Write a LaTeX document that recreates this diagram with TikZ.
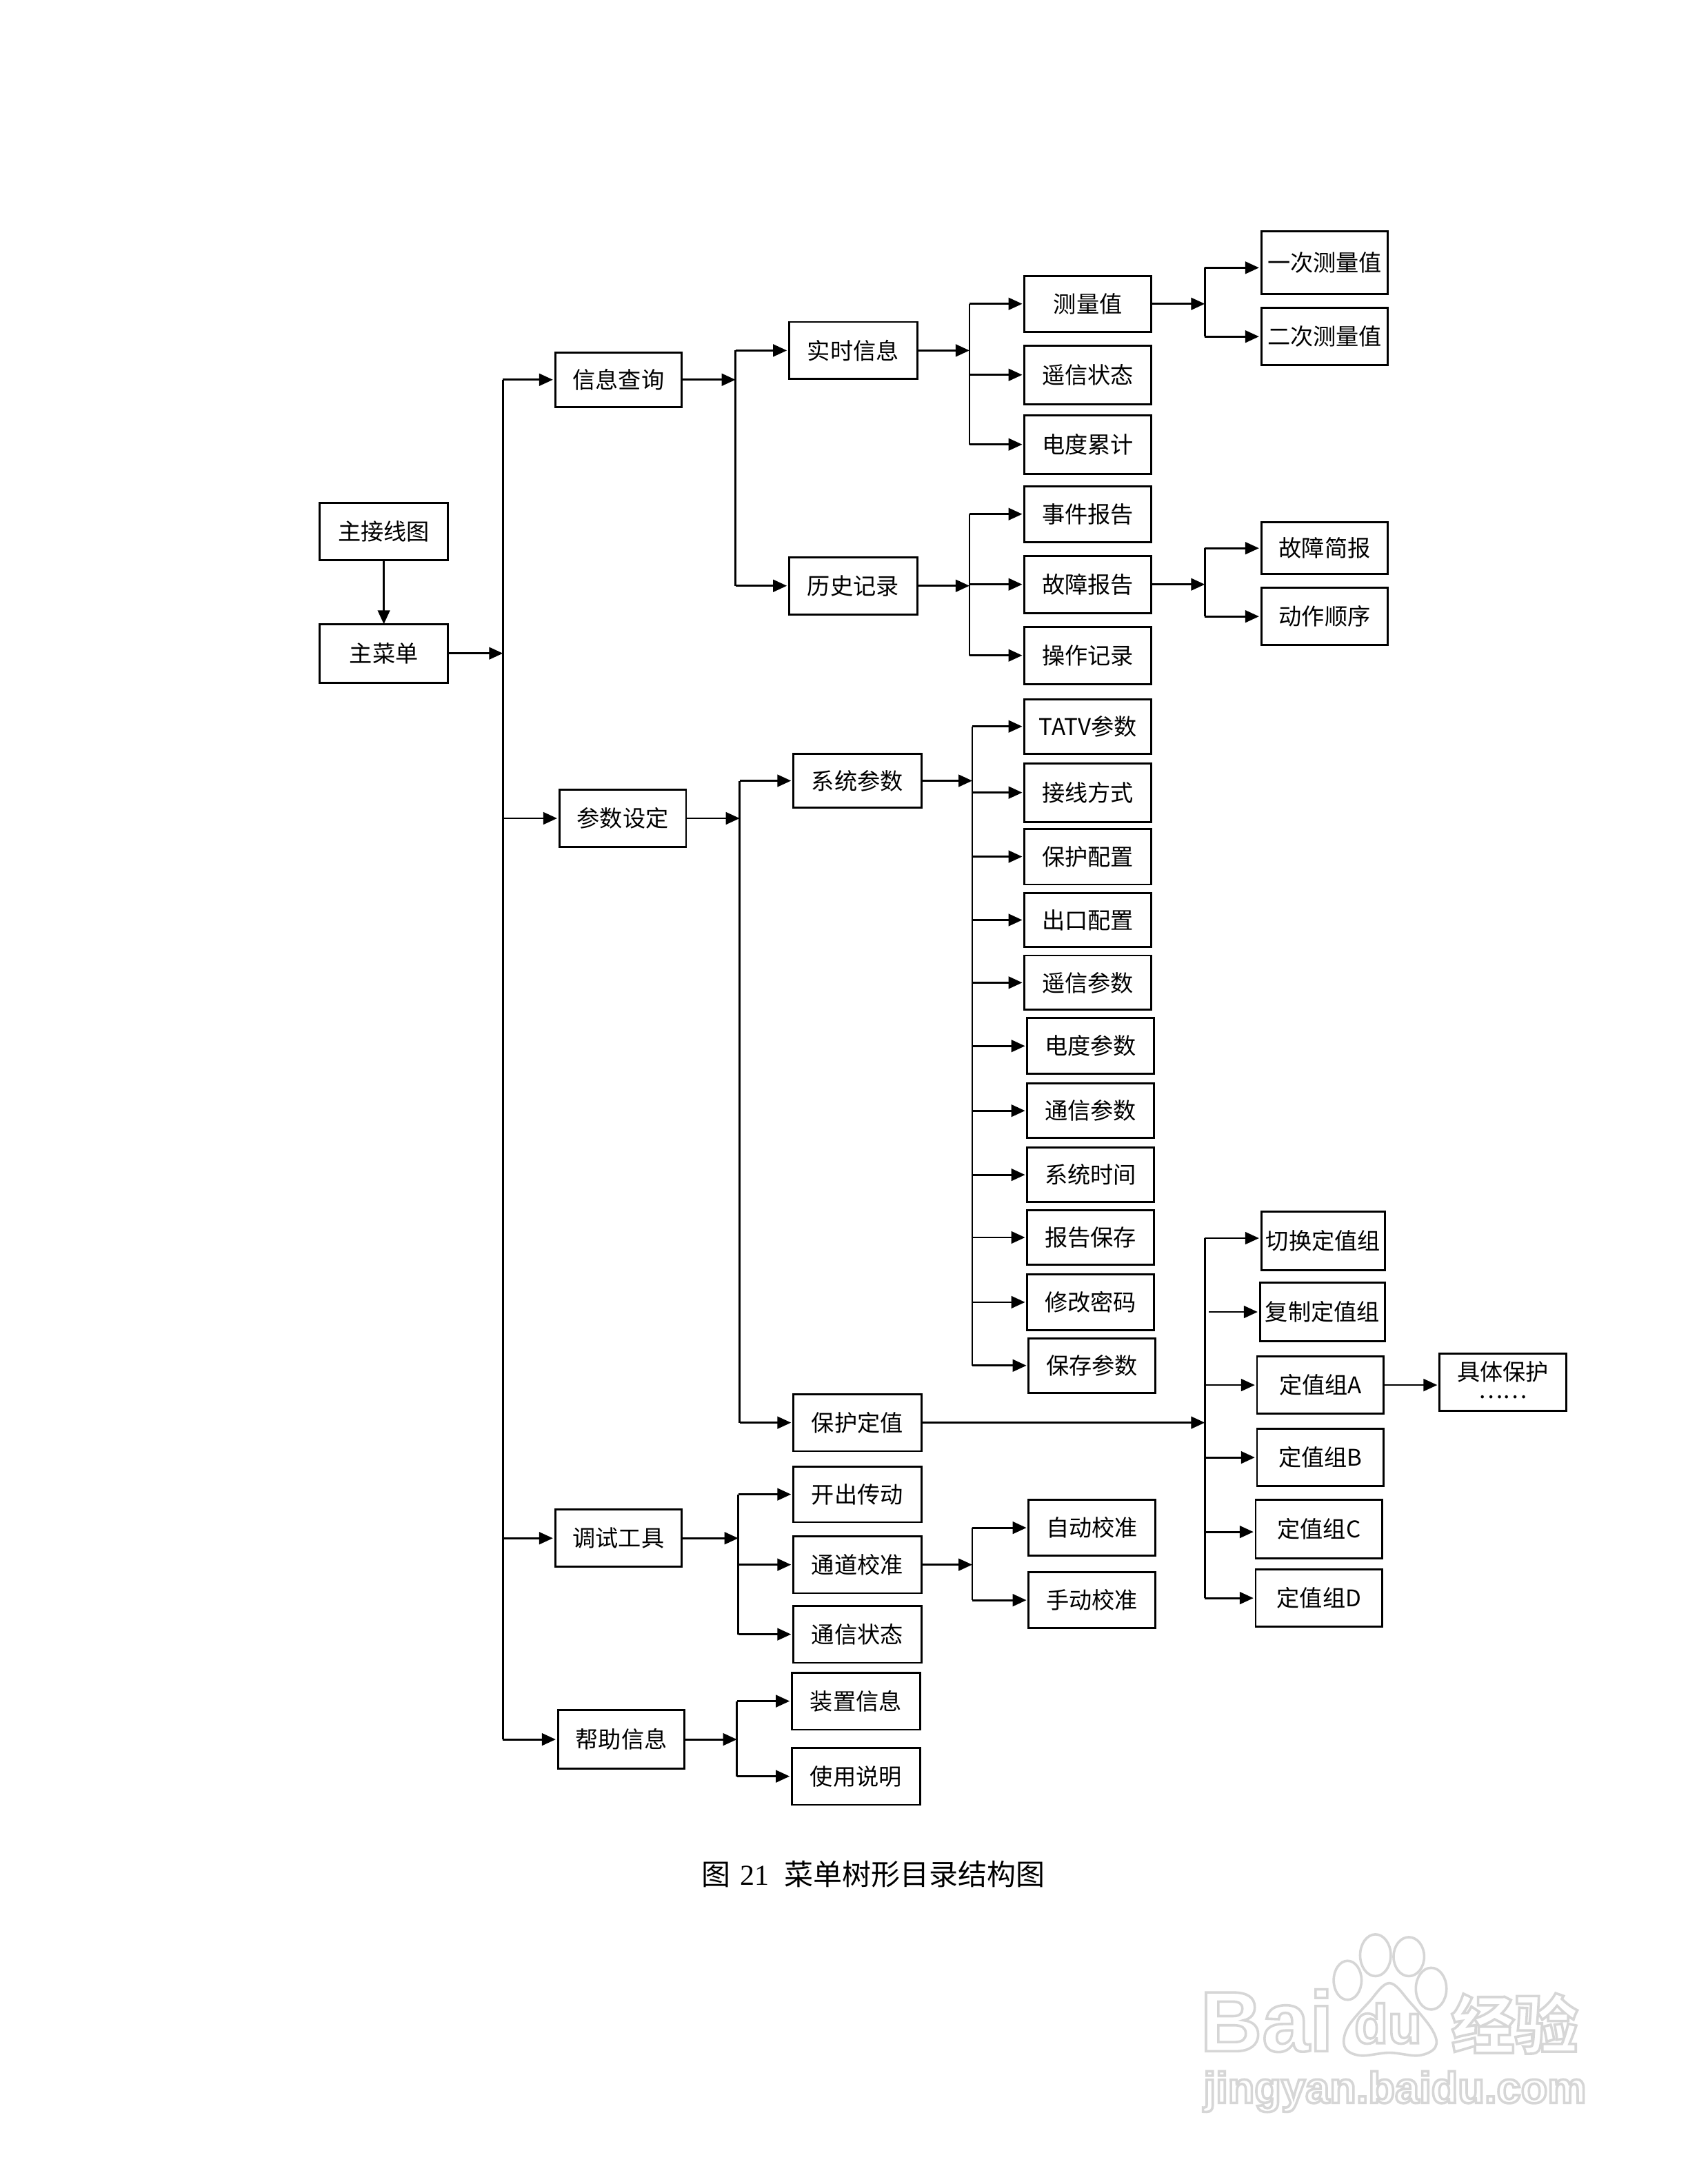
\documentclass[tikz,border=0pt]{standalone}
\usepackage{fontspec}
\usetikzlibrary{arrows.meta}
\setmainfont{Liberation Sans}
\newfontfamily\cjk{Noto Sans CJK SC}
\newfontfamily\capserif{Liberation Serif}
\newfontfamily\wmlatin{Liberation Sans}
\definecolor{wmgray}{gray}{0.84}
\tikzset{
  menubox/.style={draw=black,line width=0.72pt,inner sep=0pt,outer sep=0pt,align=center,font=\cjk\fontsize{8.3}{10.5}\selectfont},
  link/.style={draw=black,line width=0.7pt},
  arr/.style={link,-{Triangle[length=5pt,width=4.4pt]},shorten >=0.8pt},
  wmline/.style={draw=wmgray,line width=0.9pt,fill=white}
}
% box: name, left, right, top, bottom, text
\newcommand{\bx}[6]{\node[menubox,minimum width={(#3-#2)*0.505pt},minimum height={(#5-#4)*0.505pt}] (#1) at ({(#2+#3)/2},{(#4+#5)/2}) {#6};}
% branch: bus, node, y offset in pt
\newcommand{\br}[3][0pt]{\draw[arr] ([yshift=#1]#2 |- #3.west) -- ([yshift=#1]#3.west);}
% outlined watermark text
\newcommand{\wm}[5]{\node[font=#4,inner sep=0pt] (#1) at (#2,#3) {\special{pdf:code q 1 Tr 0.9 w 0.84 G}#5\special{pdf:code Q}};}
\begin{document}
\begin{tikzpicture}[x=0.50495pt,y=-0.50495pt]
\useasboundingbox[fill=white] (0,0) rectangle (1212,1568.5);
\begin{scope}[shift={(0.6,0.2)}]
% level 0
\bx{zjxt}{229}{321}{361}{402}{主接线图}
\bx{zcd}{229}{321}{448}{490}{主菜单}
% level 1
\bx{xxcx}{398}{489}{253}{292}{信息查询}
\bx{cssd}{401}{492}{567}{608}{参数设定}
\bx{tsgj}{398}{489}{1084}{1125}{调试工具}
\bx{bzxx}{400}{491}{1228}{1270}{帮助信息}
% level 2
\bx{ssxx}{566}{658}{231}{272}{实时信息}
\bx{lsjl}{566}{658}{400}{441}{历史记录}
\bx{xtcs}{569}{661}{541}{580}{系统参数}
\bx{bhdz}{569}{661}{1001}{1042}{保护定值}
\bx{kccd}{569}{661}{1053}{1093}{开出传动}
\bx{tdjz}{569}{661}{1103}{1144}{通道校准}
\bx{txzt}{569}{661}{1153}{1194}{通信状态}
\bx{zzxx}{568}{660}{1201}{1242}{装置信息}
\bx{sysm}{568}{660}{1255}{1296}{使用说明}
% level 3
\bx{clz}{735}{826}{198}{238}{测量值}
\bx{yxzt}{735}{826}{248}{290}{遥信状态}
\bx{ddlj}{735}{826}{298}{340}{电度累计}
\bx{sjbg}{735}{826}{349}{389}{事件报告}
\bx{gzbg}{735}{826}{399}{440}{故障报告}
\bx{czjl}{735}{826}{450}{491}{操作记录}
\bx{tatv}{735}{826}{502}{541}{TATV参数}
\bx{jxfs}{735}{826}{548}{590}{接线方式}
\bx{bhpz}{735}{826}{595}{635}{保护配置}
\bx{ckpz}{735}{826}{641}{680}{出口配置}
\bx{yxcs}{735}{826}{686}{725}{遥信参数}
\bx{ddcs}{737}{828}{731}{771}{电度参数}
\bx{txcs}{737}{828}{778}{817}{通信参数}
\bx{xtsj}{737}{828}{824}{863}{系统时间}
\bx{bgbc}{737}{828}{869}{908}{报告保存}
\bx{xgmm}{737}{828}{915}{955}{修改密码}
\bx{bccs}{738}{829}{961}{1000}{保存参数}
\bx{zdjz}{738}{829}{1077}{1117}{自动校准}
\bx{sdjz}{738}{829}{1129}{1169}{手动校准}
% level 4
\bx{yccl}{905}{996}{166}{211}{一次测量值}
\bx{eccl}{905}{996}{221}{262}{二次测量值}
\bx{gzjb}{905}{996}{375}{412}{故障简报}
\bx{dzsx}{905}{996}{422}{463}{动作顺序}
\bx{qhdz}{905}{994}{870}{912}{切换定值组}
\bx{fzdz}{904}{994}{921}{963}{复制定值组}
\bx{dzA}{902}{993}{974}{1015}{定值组A}
\bx{dzB}{902}{993}{1026}{1067}{定值组B}
\bx{dzC}{901}{992}{1077}{1119}{定值组C}
\bx{dzD}{901}{992}{1127}{1168}{定值组D}
\bx{jtbh}{1033}{1124}{972}{1013}{具体保护\\[-2.5pt]\raisebox{1.5pt}{……}}
% bus x positions
\coordinate (b1) at (360.5,0);
\coordinate (b2) at (527.5,0);
\coordinate (b2b) at (530.5,0);
\coordinate (b2c) at (529.5,0);
\coordinate (b2d) at (528.5,0);
\coordinate (b3) at (695.5,0);
\coordinate (b3b) at (697.5,0);
\coordinate (b4) at (864.5,0);
\coordinate (b4f) at (867.5,0);
% main
\draw[arr,shorten >=0pt] (zjxt) -- (zcd);
\draw[arr,shorten >=0pt] (zcd.east) -- (b1 |- zcd.east);
\draw[link] (b1 |- xxcx.west) -- (b1 |- bzxx.west);
\br{b1}{xxcx}\br{b1}{cssd}\br{b1}{tsgj}\br{b1}{bzxx}
% 信息查询
\draw[arr,shorten >=0pt] (xxcx.east) -- (b2 |- xxcx.east);
\draw[link] (b2 |- ssxx.west) -- (b2 |- lsjl.west);
\br{b2}{ssxx}\br{b2}{lsjl}
\draw[arr,shorten >=0pt] (ssxx.east) -- (b3 |- ssxx.east);
\draw[link] (b3 |- clz.west) -- (b3 |- ddlj.west);
\br{b3}{clz}\br{b3}{yxzt}\br{b3}{ddlj}
\draw[arr,shorten >=0pt] (lsjl.east) -- (b3 |- lsjl.east);
\draw[link] (b3 |- sjbg.west) -- (b3 |- czjl.west);
\br{b3}{sjbg}\br{b3}{gzbg}\br{b3}{czjl}
\draw[arr,shorten >=0pt] (clz.east) -- (b4 |- clz.east);
\draw[link] ([yshift=-1.8pt]b4 |- yccl.west) -- (b4 |- eccl.west);
\br[-1.8pt]{b4}{yccl}\br{b4}{eccl}
\draw[arr,shorten >=0pt] (gzbg.east) -- (b4 |- gzbg.east);
\draw[link] (b4 |- gzjb.west) -- (b4 |- dzsx.west);
\br{b4}{gzjb}\br{b4}{dzsx}
% 参数设定
\draw[arr,shorten >=0pt] (cssd.east) -- (b2b |- cssd.east);
\draw[link] (b2b |- xtcs.west) -- (b2b |- bhdz.west);
\br{b2b}{xtcs}\br{b2b}{bhdz}
\draw[arr,shorten >=0pt] (xtcs.east) -- (b3b |- xtcs.east);
\draw[link] (b3b |- tatv.west) -- (b3b |- bccs.west);
\br{b3b}{tatv}\br{b3b}{jxfs}\br{b3b}{bhpz}\br{b3b}{ckpz}\br{b3b}{yxcs}\br{b3b}{ddcs}
\br{b3b}{txcs}\br{b3b}{xtsj}\br{b3b}{bgbc}\br{b3b}{xgmm}\br{b3b}{bccs}
\draw[arr,shorten >=0pt] (bhdz.east) -- (b4 |- bhdz.east);
\draw[link] ([yshift=1pt]b4 |- qhdz.west) -- (b4 |- dzD.west);
\br[1pt]{b4}{qhdz}\br{b4f}{fzdz}\br{b4}{dzA}\br{b4}{dzB}\br[-1pt]{b4}{dzC}\br{b4}{dzD}
\draw[arr] (dzA.east) -- (jtbh.west |- dzA.east);
% 调试工具
\draw[arr,shorten >=0pt] (tsgj.east) -- (b2c |- tsgj.east);
\draw[link] (b2c |- kccd.west) -- (b2c |- txzt.west);
\br{b2c}{kccd}\br{b2c}{tdjz}\br{b2c}{txzt}
\draw[arr,shorten >=0pt] (tdjz.east) -- (b3b |- tdjz.east);
\draw[link] (b3b |- zdjz.west) -- (b3b |- sdjz.west);
\br{b3b}{zdjz}\br{b3b}{sdjz}
% 帮助信息
\draw[arr,shorten >=0pt] (bzxx.east) -- (b2d |- bzxx.east);
\draw[link] (b2d |- zzxx.west) -- (b2d |- sysm.west);
\br{b2d}{zzxx}\br{b2d}{sysm}
% caption
\node[inner sep=0pt,font=\cjk\fontsize{10.5}{12}\selectfont] (cap) at (626.5,1346) {图\hspace{3.5pt}{\capserif 21}\hspace{5.5pt}菜单树形目录结构图};
% watermark
\draw[wmline] (967,1422) ellipse (10 and 14);
\draw[wmline] (987,1404) ellipse (11 and 15);
\draw[wmline] (1011,1405) ellipse (11 and 14);
\draw[wmline] (1027,1428) ellipse (11 and 15);
\draw[wmline] plot[smooth cycle,tension=0.6] coordinates {(997,1424) (1012,1438) (1028,1458) (1030,1470) (1018,1476) (997,1474) (976,1476) (965,1470) (967,1456) (982,1438)};
\wm{wa}{909}{1451}{\wmlatin\bfseries\fontsize{31}{31}\selectfont}{Bai}
\wm{wb}{996}{1453}{\wmlatin\bfseries\fontsize{20}{20}\selectfont}{du}
\wm{wc}{1087}{1453}{\cjk\bfseries\fontsize{23}{23}\selectfont}{经验}
\wm{wd}{1001}{1502}{\wmlatin\bfseries\fontsize{15.8}{16}\selectfont}{jingyan.baidu.com}
\end{scope}
\end{tikzpicture}
\end{document}
